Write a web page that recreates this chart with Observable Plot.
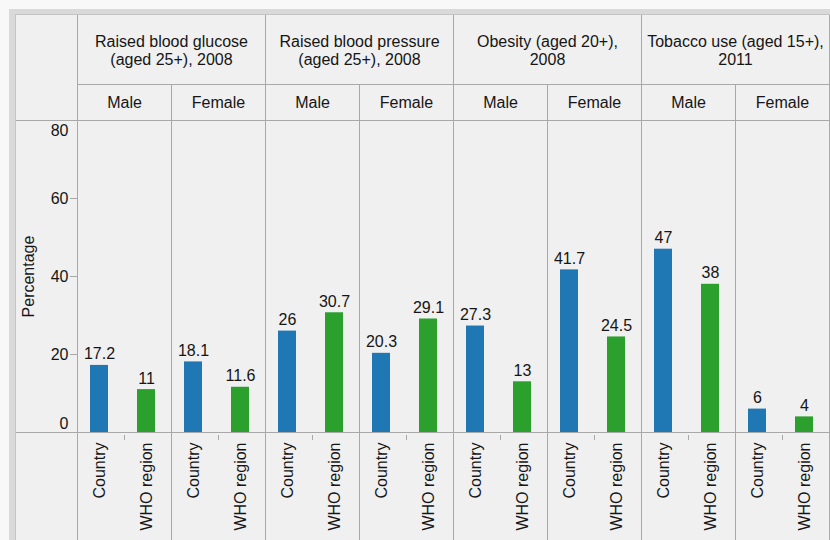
<!DOCTYPE html>
<html>
<head>
<meta charset="utf-8">
<script src="https://cdn.jsdelivr.net/npm/d3@7"></script>
<script src="https://cdn.jsdelivr.net/npm/@observablehq/plot@0.6"></script>
<style>
  html, body { margin: 0; padding: 0; background: #f8f8f8; width: 830px; height: 540px; overflow: hidden; }
  #band { position: absolute; left: 9px; top: 9px; width: 821px; height: 531px; background: #d9d9d9; }
  #panel { position: absolute; left: 15px; top: 14px; width: 815px; height: 526px; background: #f0f0f0;
           border-left: 1px solid #c4c4c4; border-top: 1px solid #c4c4c4; box-sizing: border-box; }
  #chart { position: absolute; left: 16px; top: 15px; }
</style>
</head>
<body>
<div id="band"></div>
<div id="panel"></div>
<div id="chart"></div>
<script>
// ---- data ----
const categories = [
  "Raised blood glucose\n(aged 25+), 2008",
  "Raised blood pressure\n(aged 25+), 2008",
  "Obesity (aged 20+),\n2008",
  "Tobacco use (aged 15+),\n2011"
];
const sexes = ["Male", "Female"];
const groups = ["Country", "WHO region"];
// order: category 1 Male, category 1 Female, category 2 Male, ...
const countryValues   = [17.2, 18.1, 26, 20.3, 27.3, 41.7, 47, 6];
const whoRegionValues = [11, 11.6, 30.7, 29.1, 13, 24.5, 38, 4];
const yDomain = [0, 80];
const yMidTicks = [20, 40, 60];
const yLabel = "Percentage";

// ---- layout constants ----
const LINE = "#a8a8a8";
const TEXT = "#151515";
const W = 814, H = 525, ML = 61, MR = 1, MT = 105, MB = 108;
const ROW1 = 69;                       // bottom of the category header row
const frameH = H - MT - MB;
const facetW = (W - ML - MR) / (categories.length * sexes.length);

// ---- tables built from the arrays ----
const keys = [];
const subcols = [];
categories.forEach((c, ci) => sexes.forEach(s => {
  const k = ci + "|" + s;
  keys.push(k);
  subcols.push({key: k, sex: s});
}));
const rows = [];
keys.forEach((k, i) => {
  rows.push({key: k, group: groups[0], value: countryValues[i]});
  rows.push({key: k, group: groups[1], value: whoRegionValues[i]});
});
const cats = categories.map((c, ci) => ({title: c, male: ci + "|" + sexes[0], female: ci + "|" + sexes[1]}));

const plot = Plot.plot({
  width: W, height: H,
  marginLeft: ML, marginRight: MR, marginTop: MT, marginBottom: MB,
  style: {background: "transparent", fontFamily: "'Liberation Sans', Arial, sans-serif", fontSize: "16px", color: TEXT, overflow: "visible"},
  fx: {domain: keys, padding: 0, axis: null},
  x: {domain: groups, paddingInner: 0.617, paddingOuter: 0.3085, align: 0.45},
  y: {domain: yDomain, nice: false},
  color: {domain: groups, range: ["#1f77b4", "#2ca02c"]},
  marks: [
    // cell borders of the sub-columns (from header row 2 down to the bottom)
    Plot.frame({stroke: LINE, insetTop: -(MT - ROW1), insetBottom: -MB}),
    // horizontal rules at the top and bottom of the plotting area
    Plot.ruleY([yDomain[0], yDomain[1]], {stroke: LINE}),
    // category borders in the top header row
    Plot.ruleX(cats, {fx: "female", x: null, dx: facetW / 2, insetTop: -MT, insetBottom: frameH + (MT - ROW1), stroke: LINE}),
    Plot.ruleX(cats.slice(0, 1), {fx: "male", x: null, dx: -facetW / 2, insetTop: -MT, insetBottom: frameH + (MT - ROW1), stroke: LINE}),
    // small tick between the two bars, below the axis
    Plot.ruleX(subcols, {fx: "key", x: null, insetTop: frameH + 3, insetBottom: -8, stroke: LINE}),
    // bars
    Plot.barY(rows, {fx: "key", x: "group", y: "value", fill: "group"}),
    // value labels
    Plot.text(rows, {fx: "key", x: "group", y: "value", text: d => String(d.value), lineAnchor: "bottom", dy: -6, fill: TEXT}),
    // Male / Female headers
    Plot.text(subcols, {fx: "key", text: "sex", frameAnchor: "top", lineAnchor: "middle", dy: -18, fill: TEXT}),
    // category headers (centred on the boundary between Male and Female)
    Plot.text(cats, {fx: "male", text: "title", frameAnchor: "top-right", textAnchor: "middle", lineAnchor: "bottom", lineHeight: 1.08, dy: -56, fill: TEXT}),
    // y axis title (only in the first facet)
    Plot.text([yLabel], {fx: () => keys[0], text: d => d, frameAnchor: "left", rotate: -90, textAnchor: "middle", lineAnchor: "middle", dx: -49, fill: TEXT}),
    // y axis
    Plot.axisY({ticks: yMidTicks, tickSize: 7, tickPadding: 2, stroke: LINE, fill: TEXT, label: null}),
    Plot.axisY({ticks: [yDomain[0]], tickSize: 0, tickPadding: 9, dy: -9, fill: TEXT, label: null}),
    Plot.axisY({ticks: [yDomain[1]], tickSize: 0, tickPadding: 9, dy: 10, fill: TEXT, label: null}),
    Plot.axisY({ticks: yDomain, tickSize: ML, tickFormat: () => "", stroke: LINE, label: null}),
    // x axis (rotated group labels)
    Plot.axisX({tickRotate: -90, tickSize: 0, tickPadding: 10, fill: TEXT, label: null})
  ]
});
document.getElementById("chart").appendChild(plot);
</script>
</body>
</html>
